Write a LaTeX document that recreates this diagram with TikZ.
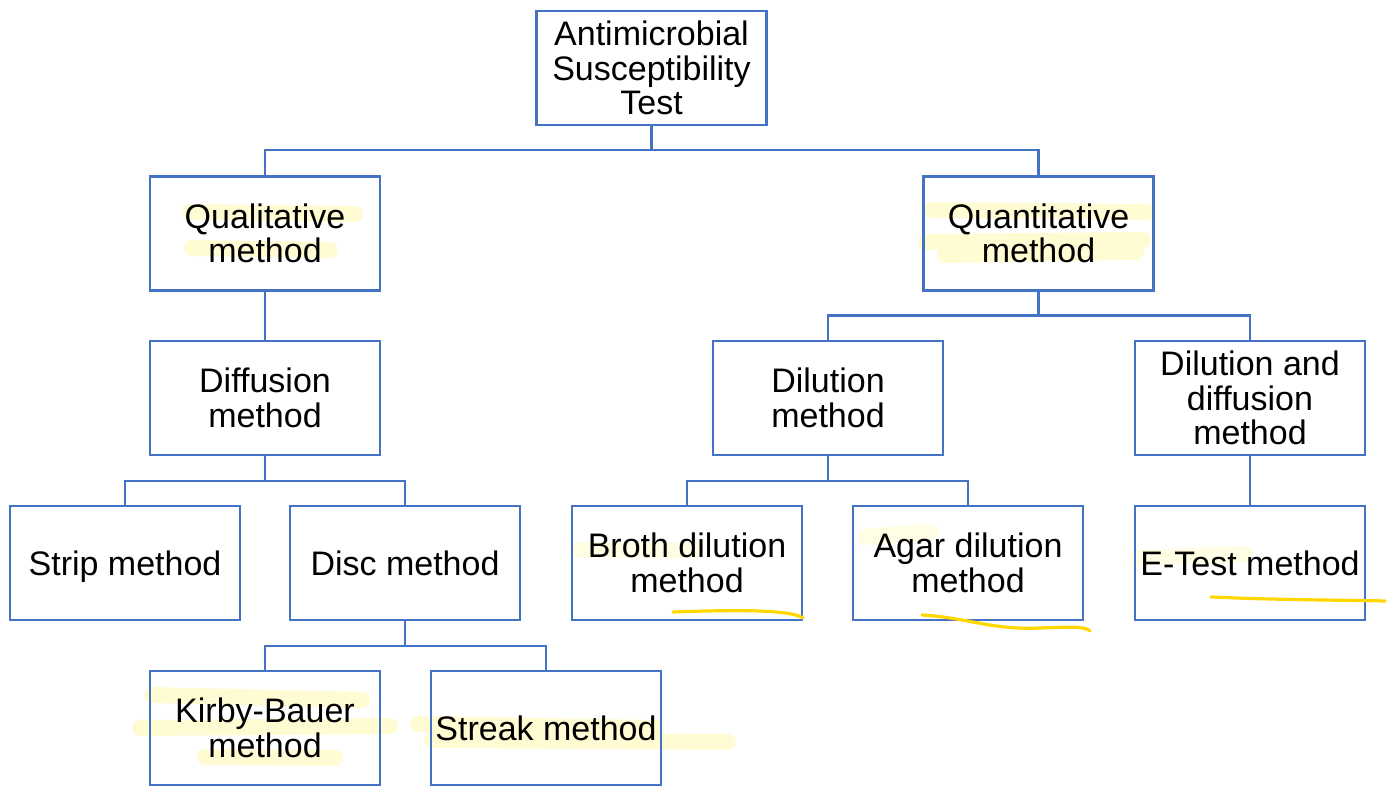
\documentclass[tikz,border=0pt]{standalone}
\usepackage{fontspec}
\setmainfont{Liberation Sans}
\usepackage{xcolor}
\definecolor{boxblue}{HTML}{4472C4}
\definecolor{marker}{HTML}{FFFBD2}
\definecolor{pen}{HTML}{FFD600}

\begin{document}
\begin{tikzpicture}[x=0.5pt, y=-0.5pt, % pixel grid of the slide
    box/.style={draw=boxblue, line width=1.2pt, minimum width=115pt, minimum height=57pt,
                inner sep=0pt, align=center, font=\fontsize{17}{17.2}\selectfont},
    single/.style={text height=12.2pt, text depth=0pt},
    link/.style={draw=boxblue, line width=1.2pt},
    glow/.style={marker, line width=8pt, line cap=round},
    faint/.style={glow, opacity=0.6},
    ink/.style={pen, line width=1.6pt, line cap=round}]
    \useasboundingbox (0,0) rectangle (1388,790);

    % Highlighter marks
    \draw[glow] (190,212) -- (355,214);
    \draw[glow] (192,248) -- (330,250);
    \draw[glow] (932,210) -- (1146,212);
    \draw[glow] (926,242) -- (1143,240);
    \draw[glow] (945,255) -- (1136,252);
    \draw[glow] (152,695) -- (362,700);
    \draw[glow] (140,728) -- (390,726);
    \draw[glow] (205,757) -- (335,758);
    \draw[glow] (418,724) -- (655,728);
    \draw[glow] (432,740) -- (728,742);
    \draw[faint] (578,550) -- (695,550);
    \draw[faint] (866,537) -- (930,532);
    \draw[faint] (1138,558) -- (1245,554);

    % Boxes
    \node[box] (ast) at (651.5,68) {Antimicrobial\\Susceptibility\\Test};
    \node[box] (qual) at (265,233.5) {Qualitative\\method};
    \node[box] (quant) at (1038.5,233.5) {Quantitative\\method};
    \node[box] (diff) at (265,398) {Diffusion\\method};
    \node[box] (dil) at (828,398) {Dilution\\method};
    \node[box] (dildiff) at (1250,398) {Dilution and\\diffusion\\method};
    \node[box, single] (strip) at (125,563) {Strip method};
    \node[box, single] (disc) at (405,563) {Disc method};
    \node[box] (broth) at (687,563) {Broth dilution\\method};
    \node[box] (agar) at (968,563) {Agar dilution\\method};
    \node[box, single] (etest) at (1250,563) {E-Test method};
    \node[box] (kirby) at (265,728) {Kirby-Bauer\\method};
    \node[box, single] (streak) at (546,728) {Streak method};

    % Connectors
    \draw[link] (ast.south) -- ++(0,24) -| (qual.north);
    \draw[link] (ast.south) -- ++(0,24) -| (quant.north);
    \draw[link] (qual.south) -- (diff.north);
    \draw[link] (quant.south) -- ++(0,24) -| (dil.north);
    \draw[link] (quant.south) -- ++(0,24) -| (dildiff.north);
    \draw[link] (diff.south) -- ++(0,25) -| (strip.north);
    \draw[link] (diff.south) -- ++(0,25) -| (disc.north);
    \draw[link] (dil.south) -- ++(0,25) -| (broth.north);
    \draw[link] (dil.south) -- ++(0,25) -| (agar.north);
    \draw[link] (dildiff.south) -- (etest.north);
    \draw[link] (disc.south) -- ++(0,25) -| (kirby.north);
    \draw[link] (disc.south) -- ++(0,25) -| (streak.north);

    % Pen underlines
    \draw[ink] (673,612) .. controls (730,610) and (790,609) .. (803,618);
    \draw[ink] (922,615) .. controls (970,618) and (990,630) .. (1040,628) .. controls (1070,627) and (1085,626) .. (1090,631);
    \draw[ink] (1211,597) .. controls (1280,600) and (1340,600) .. (1385,601);
\end{tikzpicture}
\end{document}
